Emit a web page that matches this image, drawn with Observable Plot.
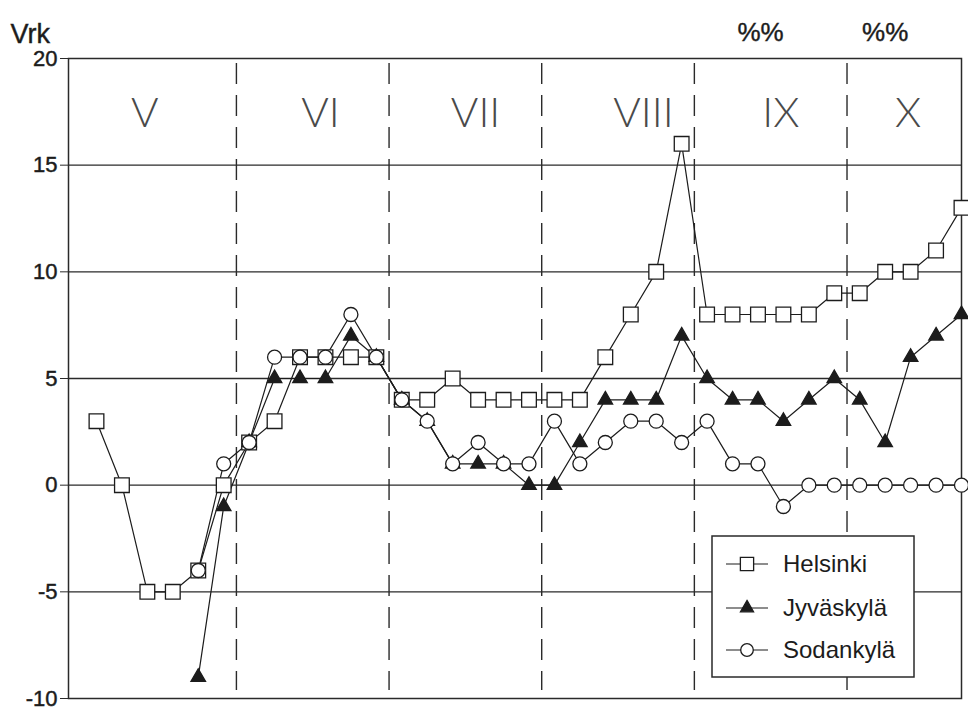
<!DOCTYPE html>
<html>
<head>
<meta charset="utf-8">
<script src="https://cdn.jsdelivr.net/npm/d3@7"></script>
<script src="https://cdn.jsdelivr.net/npm/@observablehq/plot@0.6"></script>
<style>
  html, body { margin: 0; padding: 0; background: #fff; }
  #chart { width: 968px; height: 709px; }
  svg { display: block; }
  g[aria-label="y-axis tick label"] text { stroke: #1c1c1c; stroke-width: 0.45px; }
  .hdr text { stroke: #1c1c1c; stroke-width: 0.4px; }
</style>
</head>
<body>
<div id="chart"></div>
<script>
// Period index (6 periods per month, May–October)
const periods = [0,1,2,3,4,5,6,7,8,9,10,11,12,13,14,15,16,17,18,19,20,21,22,23,24,25,26,27,28,29,30,31,32,33,34];
const helsinki  = [3,0,-5,-5,-4,0,2,3,6,6,6,6,4,4,5,4,4,4,4,4,6,8,10,16,8,8,8,8,8,9,9,10,10,11,13];
const jyvaskyla = [null,null,null,null,-9,-1,2,5,5,5,7,6,4,3,1,1,1,0,0,2,4,4,4,7,5,4,4,3,4,5,4,2,6,7,8];
const sodankyla = [null,null,null,null,-4,1,2,6,6,6,8,6,4,3,1,2,1,1,3,1,2,3,3,2,3,1,1,-1,0,0,0,0,0,0,0];
const seriesNames = ["Helsinki", "Jyväskylä", "Sodankylä"];
const months = ["V","VI","VII","VIII","IX","X"];
const monthLabelPos = [1.9, 8.8, 14.9, 21.5, 26.9, 31.9];
const monthBounds = [5.5, 11.5, 17.5, 23.5, 29.5];
const yTicks = [-10,-5,0,5,10,15,20];
const gridLines = [-5,0,5,10,15];
const headerMarks = ["%%", "%%"];
const headerPos = [26.1, 31.0];

const seriesValues = [helsinki, jyvaskyla, sodankyla];
const data = [];
seriesValues.forEach((vals, s) => {
  vals.forEach((v, i) => {
    if (v !== null) data.push({series: seriesNames[s], i: periods[i], v});
  });
});
const monthData = months.map((m, k) => ({m, x: monthLabelPos[k]}));
const headerData = headerMarks.map((t, k) => ({t, x: headerPos[k]}));

const font = "'Liberation Sans', Arial, Helvetica, sans-serif";
const ink = "#1c1c1c";
const symbols = {"Helsinki": "square", "Jyväskylä": "triangle", "Sodankylä": "circle"};
const fills = {"Helsinki": "white", "Jyväskylä": ink, "Sodankylä": "white"};
const radii = {"Helsinki": 8.3, "Jyväskylä": 5.4, "Sodankylä": 7};

const dotMarks = seriesNames.map(name =>
  Plot.dot(data.filter(d => d.series === name), {
    x: "i", y: "v", symbol: () => symbols[name], r: radii[name],
    fill: fills[name], stroke: ink, strokeWidth: 1.3
  })
);

const plot = Plot.plot({
  width: 968,
  height: 709,
  marginLeft: 68,
  marginRight: 7,
  marginTop: 58,
  marginBottom: 11,
  style: {fontFamily: font, background: "white", color: ink, overflow: "visible"},
  x: {domain: [-1.1, 34], axis: null},
  y: {domain: [-10, 20], axis: null},
  symbol: {type: "identity"},
  marks: [
    Plot.ruleY(gridLines, {stroke: "#2a2a2a", strokeWidth: 1.3}),
    Plot.ruleX(monthBounds, {stroke: "#2a2a2a", strokeWidth: 1.4, strokeDasharray: "21,11", insetTop: 5, insetBottom: 8}),
    Plot.frame({stroke: "#2a2a2a", strokeWidth: 1.5}),
    Plot.text(monthData, {
      x: "x", y: () => 17.4, text: "m", fontSize: 42, fontWeight: 300,
      fontFamily: "Lato, 'DejaVu Sans', sans-serif", fill: "#4a4a4a"
    }),
    Plot.line(data, {x: "i", y: "v", z: "series", stroke: ink, strokeWidth: 1.2}),
    ...dotMarks,
    Plot.axisY({
      ticks: yTicks, tickSize: 8, tickPadding: 3, fontSize: 22,
      tickFormat: d => String(d),
      stroke: "#2a2a2a", fill: ink, label: null
    }),
    Plot.text(["Vrk"], {
      frameAnchor: "top-left", dx: -58, dy: -35, text: d => d, fontSize: 27,
      textAnchor: "start", fill: ink, letterSpacing: 3, className: "hdr"
    }),
    Plot.text(headerData, {
      x: "x", frameAnchor: "top", dy: -36, text: "t", fontSize: 26,
      fill: ink, letterSpacing: 10, className: "hdr"
    })
  ]
});

document.getElementById("chart").appendChild(plot);

// Legend box drawn inside the plot area (lower right)
const svg = d3.select(plot);
const lg = svg.append("g").attr("transform", "translate(712,536)").attr("text-anchor", "start");
lg.append("rect").attr("width", 202).attr("height", 141)
  .attr("fill", "white").attr("stroke", "#2a2a2a").attr("stroke-width", 1.5);
const rowY = [28, 72, 114];
const d3sym = {"Helsinki": d3.symbolSquare, "Jyväskylä": d3.symbolTriangle, "Sodankylä": d3.symbolCircle};
seriesNames.forEach((name, k) => {
  const g = lg.append("g").attr("transform", `translate(0,${rowY[k]})`);
  g.append("line").attr("x1", 14).attr("x2", 56).attr("y1", 0).attr("y2", 0)
    .attr("stroke", ink).attr("stroke-width", 1.2);
  const r = radii[name] * 0.9;
  g.append("path").attr("transform", "translate(35,0)")
    .attr("d", d3.symbol(d3sym[name], Math.PI * r * r)())
    .attr("fill", fills[name]).attr("stroke", ink).attr("stroke-width", 1.3);
  g.append("text").attr("x", 71).attr("y", 0).attr("dy", "0.35em")
    .attr("text-anchor", "start")
    .attr("font-family", font).attr("font-size", 24).attr("fill", ink)
    .text(name);
});
</script>
</body>
</html>
